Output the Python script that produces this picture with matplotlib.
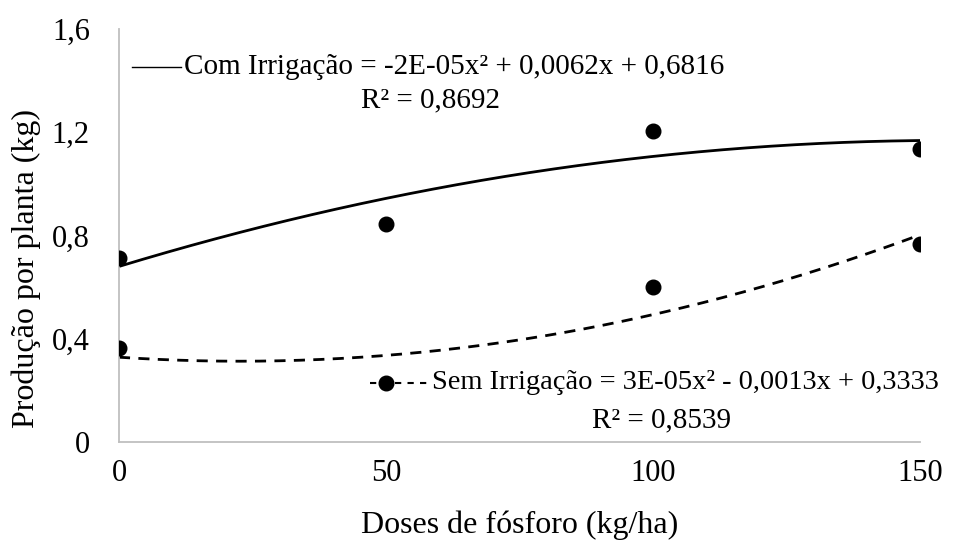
import numpy as np
import matplotlib
matplotlib.use('Agg')
import matplotlib.pyplot as plt

plt.rcParams['font.family'] = ['Liberation Serif', 'DejaVu Serif']

# doses de fosforo (kg/ha)
doses = [0, 50, 100, 150]
com_irrig = [0.713, 0.845, 1.205, 1.135]
sem_irrig = [0.364, 0.229, 0.600, 0.767]

yticks = [0, 0.4, 0.8, 1.2, 1.6]
ytick_labels = ['0', '0,4', '0,8', '1,2', '1,6']

fig = plt.figure(figsize=(9.57, 5.41), dpi=100)
ax = fig.add_axes([0.1243, 0.183, 0.837, 0.7634])

xs = np.linspace(0, 150, 200)
p_com = np.polyfit(doses, com_irrig, 2)
p_sem = np.polyfit(doses, sem_irrig, 2)
ax.plot(xs, np.polyval(p_com, xs), color='black', lw=2, zorder=2)
ax.plot(xs, np.polyval(p_sem, xs), color='black', lw=2, ls=(0, (4, 3)), zorder=2)

ax.plot(doses, com_irrig, 'o', color='black', ms=10.5, zorder=4)
ax.plot(doses, sem_irrig, 'o', color='black', ms=10.5, zorder=4)

ax.set_xlim(0, 150)
ax.set_ylim(0, 1.6)
ax.set_xticks(doses)
ax.set_yticks(yticks)
ax.set_yticklabels(ytick_labels)
ax.tick_params(length=0, labelsize=22)
ax.tick_params(axis='y', pad=21)
ax.tick_params(axis='x', pad=12)

for s in ['top', 'right']:
    ax.spines[s].set_visible(False)
for s in ['left', 'bottom']:
    ax.spines[s].set_color('#bfbfbf')
    ax.spines[s].set_linewidth(1.3)

ax.set_xlabel('Doses de fósforo (kg/ha)', fontsize=23)
ax.set_ylabel('Produção por planta (kg)', fontsize=23)
ax.xaxis.set_label_coords(0.5, -0.165)
ax.yaxis.set_label_coords(-0.097, 0.42)

# trendline labels
ax.plot([0.0162, 0.0774], [0.908, 0.908], transform=ax.transAxes, color='black', lw=1, zorder=3)
ax.text(0.0811, 0.908, 'Com Irrigação = -2E-05x² + 0,0062x + 0,6816', transform=ax.transAxes,
        fontsize=21, va='center', ha='left')
ax.text(0.389, 0.828, 'R² = 0,8692', transform=ax.transAxes, fontsize=21, va='center', ha='center')

ax.plot([0.313, 0.388], [0.143, 0.143], transform=ax.transAxes, color='black', lw=1.5,
        ls=(0, (3, 3)), zorder=3)
ax.text(0.391, 0.143, 'Sem Irrigação = 3E-05x² - 0,0013x + 0,3333', transform=ax.transAxes,
        fontsize=20.5, va='center', ha='left')
ax.text(0.678, 0.052, 'R² = 0,8539', transform=ax.transAxes, fontsize=21, va='center', ha='center')

fig.savefig('out.png', dpi=100)
